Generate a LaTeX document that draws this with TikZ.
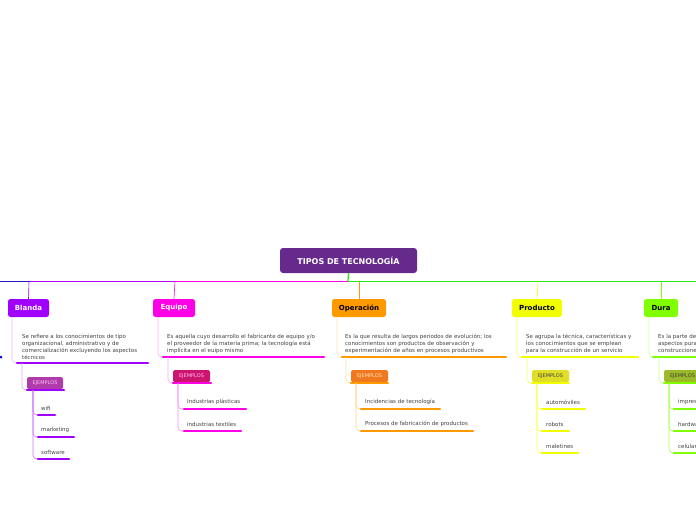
\documentclass[tikz,border=0pt]{standalone}
\usepackage{fontspec}
\setmainfont{DejaVu Sans}
\definecolor{cBl}{HTML}{A100FF}\definecolor{cEq}{HTML}{FF00E6}
\definecolor{cOp}{HTML}{FF9900}\definecolor{cPr}{HTML}{F2FF00}\definecolor{cDu}{HTML}{80FF00}
\definecolor{cRoot}{RGB}{102,42,140}\definecolor{cGr}{RGB}{40,230,20}\definecolor{cBlue}{RGB}{40,20,200}
\definecolor{eBl}{RGB}{175,60,170}\definecolor{eEq}{RGB}{205,20,110}\definecolor{eOp}{RGB}{240,120,30}
\definecolor{ePr}{RGB}{225,222,40}\definecolor{eDu}{RGB}{155,185,40}
\begin{document}
\begin{tikzpicture}[x=1pt,y=-1pt,
 mainbox/.style={fill=#1,rounded corners=2.5pt,inner sep=0pt,text=white,font=\fontsize{7}{8}\selectfont\bfseries},
 ejbox/.style={fill=#1,rounded corners=1.5pt,inner sep=0pt,font=\fontsize{5}{5.5}\selectfont},
 desc/.style={anchor=north west,align=left,inner sep=0pt,font=\fontsize{5.5}{6.9}\selectfont,text=black!75},
 item/.style={anchor=west,inner sep=0pt,font=\fontsize{5.5}{6}\selectfont,text=black!75},
 uline/.style={line width=2.2pt,line cap=round,draw=#1},
 thin/.style={line width=0.6pt,draw=#1,rounded corners=4pt}]
\useasboundingbox (0,0) rectangle (696,520);
\clip (0,0) rectangle (696,520);
% root
\node[fill=cRoot,rounded corners=3pt,minimum width=137pt,minimum height=25pt,text=white,font=\fontsize{8}{9}\selectfont\bfseries] (root) at (348.5,260.5) {TIPOS DE TECNOLOGÍA};
\coordinate (rb) at (348,281);
\draw[line width=1.2pt,draw=cGr] (root.south) -- (rb);
\draw[line width=0.7pt,draw=cBlue] (0,281) -- (29,281);
\draw[line width=0.7pt,draw=cBl!80!cEq] (29,281) -- (175,281);
\draw[line width=0.7pt,draw=cEq] (175,281) -- (348,281);
\draw[line width=0.7pt,draw=cGr] (348,281) -- (696,281);
\fill[blue] (1,357) circle (1.5pt);
% ---- Blanda
\node[mainbox=cBl,minimum width=41pt,minimum height=18pt] (bl) at (28.5,308) {Blanda};
\draw[thin=cBl] (29,281.5) -- (bl.north);
\node[desc] (bld) at (22,334) {Se refiere a los conocimientos de tipo\\organizacional, administrativo y de\\comercialización excluyendo los aspectos\\técnicos};
\draw[thin=cBl!30] (12,317) |- (22,363);
\draw[uline=cBl] (17,363) -- (148,363);
\node[ejbox=eBl,minimum width=36pt,minimum height=12pt,text=white!75!cEq] (ble) at (45,383) {EJEMPLOS};
\draw[thin=cBl!35] (22,363) |- (29,390);
\draw[uline=cBl] (27,390) -- (64,390);
\node[item] (b1) at (41,408) {wifi};
\node[item] (b2) at (41,430) {marketing};
\node[item] (b3) at (41,452) {software};
\draw[thin=cBl!55] (33,390) |- (38,415);
\draw[thin=cBl!55] (33,390) |- (38,437);
\draw[thin=cBl!55] (33,390) |- (38,459);
\draw[uline=cBl] (38,415) -- (55,415);
\draw[uline=cBl] (38,437) -- (74,437);
\draw[uline=cBl] (38,459) -- (69,459);
% ---- Equipo
\node[mainbox=cEq,minimum width=42pt,minimum height=18pt] (eq) at (174,308) {Equipo};
\draw[thin=cEq] (175,281.5) -- (eq.north);
\node[desc] (eqd) at (167,334) {Es aquella cuyo desarrollo el fabricante de equipo y/o\\el proveedor de la materia prima; la tecnología está\\implícita en el euipo mismo};
\draw[thin=cEq!30] (158,317) |- (166,357);
\draw[uline=cEq] (163,357) -- (324,357);
\node[ejbox=eEq,minimum width=37pt,minimum height=12pt,text=white!75!cEq] (eqe) at (191.5,376) {EJEMPLOS};
\draw[thin=cEq!35] (168,357) |- (175,383);
\draw[uline=cEq] (173,383) -- (211,383);
\node[item] (e1) at (187,402) {Industrias plásticas};
\node[item] (e2) at (187,424) {industrias textiles};
\draw[thin=cEq!45] (178,383) |- (184,409);
\draw[thin=cEq!45] (178,383) |- (184,431);
\draw[uline=cEq] (184,409) -- (246,409);
\draw[uline=cEq] (184,431) -- (241,431);
% ---- Operación
\node[mainbox=cOp,minimum width=54pt,minimum height=18pt,text=black] (op) at (359,308) {Operación};
\draw[thin=cOp] (359,281.5) -- (op.north);
\node[desc] (opd) at (345,334) {Es la que resulta de largos periodos de evolución; los\\conocimientos son productos de observación y\\experimentación de años en procesos productivos};
\draw[thin=cOp!30] (337,317) |- (345,357);
\draw[uline=cOp] (342,357) -- (506,357);
\node[ejbox=eOp,minimum width=37pt,minimum height=12pt,text=white!75!cOp] (ope) at (369.5,376) {EJEMPLOS};
\draw[thin=cOp!35] (346,357) |- (353,383);
\draw[uline=cOp] (351,383) -- (388,383);
\node[item] (o1) at (365,402) {Incidencias de tecnología};
\node[item] (o2) at (365,424) {Procesos de fabricación de productos};
\draw[thin=cOp!45] (356,383) |- (361,409);
\draw[thin=cOp!45] (356,383) |- (361,431);
\draw[uline=cOp] (361,409) -- (440,409);
\draw[uline=cOp] (361,431) -- (473,431);
% ---- Producto
\node[mainbox=cPr,minimum width=50pt,minimum height=18pt,text=black] (pr) at (537,308) {Producto};
\draw[thin=cPr] (538,281.5) -- (pr.north);
\node[desc] (prd) at (526,334) {Se agrupa la técnica, características y\\los conocimientos que se emplean\\para la construcción de un servicio};
\draw[thin=cPr!60] (517,317) |- (525,357);
\draw[uline=cPr] (522,357) -- (638,357);
\node[ejbox=ePr,minimum width=37pt,minimum height=12pt,text=black!75] (pre) at (550.5,376) {EJEMPLOS};
\draw[thin=cPr!60] (527,357) |- (534,383);
\draw[uline=cPr] (532,383) -- (569,383);
\node[item] (p1) at (546,402) {automóviles};
\node[item] (p2) at (546,424) {robots};
\node[item] (p3) at (546,446) {maletines};
\draw[thin=cPr!70] (537,383) |- (542,409);
\draw[thin=cPr!70] (537,383) |- (542,431);
\draw[thin=cPr!70] (537,383) |- (542,453);
\draw[uline=cPr] (542,409) -- (585,409);
\draw[uline=cPr] (542,431) -- (569,431);
\draw[uline=cPr] (542,453) -- (578,453);
% ---- Dura
\node[mainbox=cDu,minimum width=34pt,minimum height=18pt,text=black] (du) at (661,308) {Dura};
\draw[thin=cDu] (661,281.5) -- (du.north);
\node[desc] (dud) at (658,334) {Es la parte de la tecnología que abarca\\aspectos puramente técnicos en las\\construcciones};
\draw[thin=cDu!40] (649,317) |- (656,357);
\draw[uline=cDu] (653,357) -- (760,357);
\node[ejbox=eDu,minimum width=37pt,minimum height=12pt,text=black!75] (due) at (682.5,376) {EJEMPLOS};
\draw[thin=cDu!50] (659,357) |- (666,383);
\draw[uline=cDu] (664,383) -- (702,383);
\node[item] (d1) at (678,402) {impresoras};
\node[item] (d2) at (678,424) {hardware};
\node[item] (d3) at (678,446) {celulares};
\draw[thin=cDu!70] (669,383) |- (674,409);
\draw[thin=cDu!70] (669,383) |- (674,431);
\draw[thin=cDu!70] (669,383) |- (674,453);
\draw[uline=cDu] (674,409) -- (720,409);
\draw[uline=cDu] (674,431) -- (720,431);
\draw[uline=cDu] (674,453) -- (720,453);
\end{tikzpicture}
\end{document}
